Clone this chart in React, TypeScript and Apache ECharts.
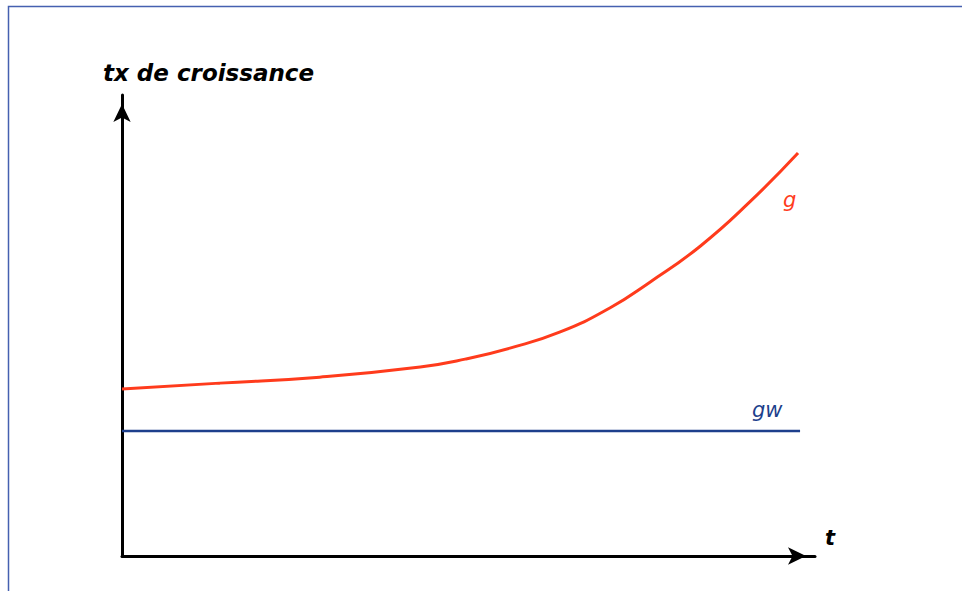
import React, { useEffect, useRef } from "react";
import * as echarts from "echarts";

// time axis positions (arbitrary units)
const tValues = [0, 14.4, 29.1, 43.9, 50.5, 57.1, 64.5, 71.8, 77.7, 85.1, 92.4, 99.5];
// growth rate g (red curve)
const gValues = [36.2, 37.5, 38.8, 41.0, 42.7, 45.1, 48.6, 53.8, 59.4, 67.2, 76.8, 87.4];
// warranted growth rate gw (flat line)
const gwT = [0, 99.8];
const gwValues = [27.1, 27.1];

const yAxisName = "tx de croissance";
const xAxisName = "t";
const gLabel = "g";
const gwLabel = "gw";

export default function App() {
  const ref = useRef<HTMLDivElement>(null);
  useEffect(() => {
    if (!ref.current) return;
    const chart = echarts.init(ref.current, null, { renderer: "svg" });
    const font = "'DejaVu Sans', sans-serif";
    chart.setOption({
      animation: false,
      backgroundColor: "#ffffff",
      grid: { left: 122, top: 95, width: 693, height: 461 },
      xAxis: {
        type: "value",
        min: 0,
        max: 102,
        axisLabel: { show: false },
        axisTick: { show: false },
        splitLine: { show: false },
        axisLine: {
          show: true,
          lineStyle: { color: "#000", width: 3 },
          symbol: ["none", "arrow"],
          symbolSize: [13, 18],
          symbolOffset: [0, -9],
        },
      },
      yAxis: {
        type: "value",
        min: 0,
        max: 100,
        axisLabel: { show: false },
        axisTick: { show: false },
        splitLine: { show: false },
        axisLine: {
          show: true,
          lineStyle: { color: "#000", width: 3 },
          symbol: ["none", "arrow"],
          symbolSize: [13, 18],
          symbolOffset: [0, -9],
        },
      },
      series: [
        {
          type: "line",
          name: gLabel,
          data: tValues.map((t, i) => [t, gValues[i]]),
          smooth: 0.5,
          showSymbol: false,
          lineStyle: { color: "#ff3b1c", width: 3 },
        },
        {
          type: "line",
          name: gwLabel,
          data: gwT.map((t, i) => [t, gwValues[i]]),
          showSymbol: false,
          lineStyle: { color: "#1d3f8c", width: 2.5 },
        },
      ],
      graphic: [
        {
          type: "rect",
          shape: { x: 8.5, y: 6.5, width: 1200, height: 1200 },
          style: { fill: "none", stroke: "#4660b0", lineWidth: 1.5 },
          silent: true,
        },
        {
          type: "text",
          x: 103,
          y: 73,
          style: {
            text: yAxisName,
            fill: "#000",
            font: `italic bold 23px ${font}`,
            textVerticalAlign: "middle",
          },
        },
        {
          type: "text",
          x: 783,
          y: 200,
          style: {
            text: gLabel,
            fill: "#ff3b1c",
            font: `italic 21px ${font}`,
            textVerticalAlign: "middle",
          },
        },
        {
          type: "text",
          x: 752,
          y: 410,
          style: {
            text: gwLabel,
            fill: "#1d3f8c",
            font: `italic 21px ${font}`,
            textVerticalAlign: "middle",
          },
        },
        {
          type: "text",
          x: 825,
          y: 538,
          style: {
            text: xAxisName,
            fill: "#000",
            font: `italic bold 21px ${font}`,
            textVerticalAlign: "middle",
          },
        },
      ],
    });
    return () => chart.dispose();
  }, []);
  return (
    <div
      ref={ref}
      style={{ position: "fixed", left: 0, top: 0, width: 962, height: 591 }}
    />
  );
}
